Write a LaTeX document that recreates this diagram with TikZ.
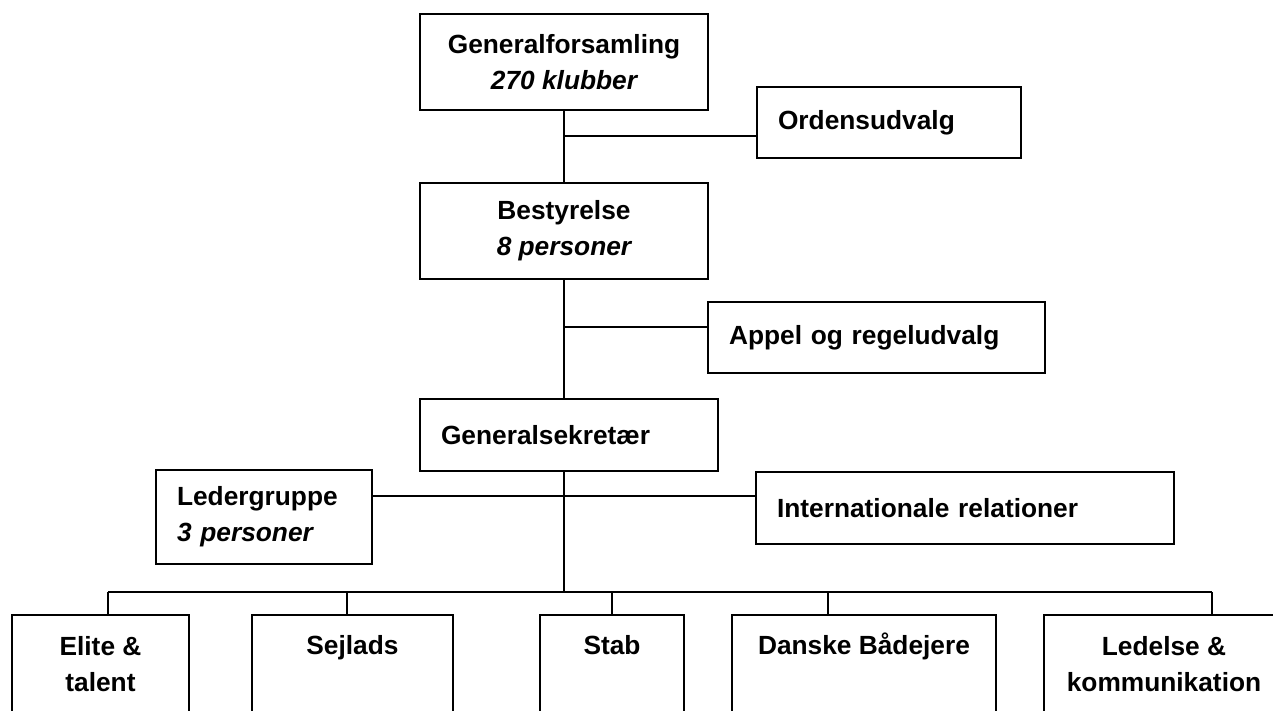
\documentclass[tikz,border=0pt]{standalone}
\usepackage{fontspec}
\setmainfont{Liberation Sans}
\begin{document}
\begin{tikzpicture}[x=1pt,y=-1pt,line width=2pt,
  font=\fontsize{26.3}{36}\selectfont\bfseries,
  box/.style={draw,inner sep=0pt,align=center},
  lbox/.style={draw,inner xsep=21pt,inner ysep=0pt,align=left},
  unit/.style={draw,anchor=north,inner xsep=0pt,inner ysep=20pt,align=center,text height=19pt,text depth=120pt}]
\useasboundingbox (0,0) rectangle (1273,711);
\clip (0,0) rectangle (1273,711);

\node[box,minimum width=288,minimum height=96] (genfors) at (564,62) {Generalforsamling\\{\itshape 270 klubber}};
\node[lbox,text width=222,minimum height=71] (ordens) at (889,122.5) {Ordensudvalg};
\node[box,minimum width=288,minimum height=96] (bestyr) at (564,231) {Bestyrelse\\{\itshape 8 personer}};
\node[lbox,text width=295,minimum height=71] (appel) at (876.5,337.5) {Appel og regeludvalg};
\node[lbox,text width=256,minimum height=72] (gensek) at (569,435) {Generalsekretær};
\node[lbox,text width=174,minimum height=94] (ledergr) at (264,517) {Ledergruppe\\{\itshape 3 personer}};
\node[lbox,text width=376,minimum height=72] (intl) at (965,508) {Internationale relationer};

\node[unit,minimum width=177,text height=56pt] (elite) at (100.5,614) {Elite \&\\talent};
\node[unit,minimum width=201] (sejlads) at (352.5,614) {Sejlads};
\node[unit,minimum width=144] (stab) at (612,614) {Stab};
\node[unit,minimum width=264] (danske) at (864,614) {Danske Bådejere};
\node[unit,minimum width=240,text height=56pt] (ledelse) at (1164,614) {Ledelse \&\\kommunikation};

\coordinate (j1) at (564,136);
\coordinate (j2) at (564,327);
\coordinate (j3) at (564,496);
\coordinate (bus) at (564,592);

\draw (genfors.south) -- (genfors.south |- bestyr.north);
\draw (j1) -- (j1 -| ordens.west);
\draw (bestyr.south) -- (bestyr.south |- gensek.north);
\draw (j2) -- (j2 -| appel.west);
\draw (bestyr.south |- gensek.south) -- (bus);
\draw (ledergr.east |- j3) -- (j3 -| intl.west);

\foreach \n/\x in {elite/108,sejlads/347,stab/612,danske/828,ledelse/1212}{
  \coordinate (d\n) at (\x,592);
  \draw (d\n) -- (d\n |- \n.north);
}
\draw (delite) -- (dledelse);
\end{tikzpicture}
\end{document}
